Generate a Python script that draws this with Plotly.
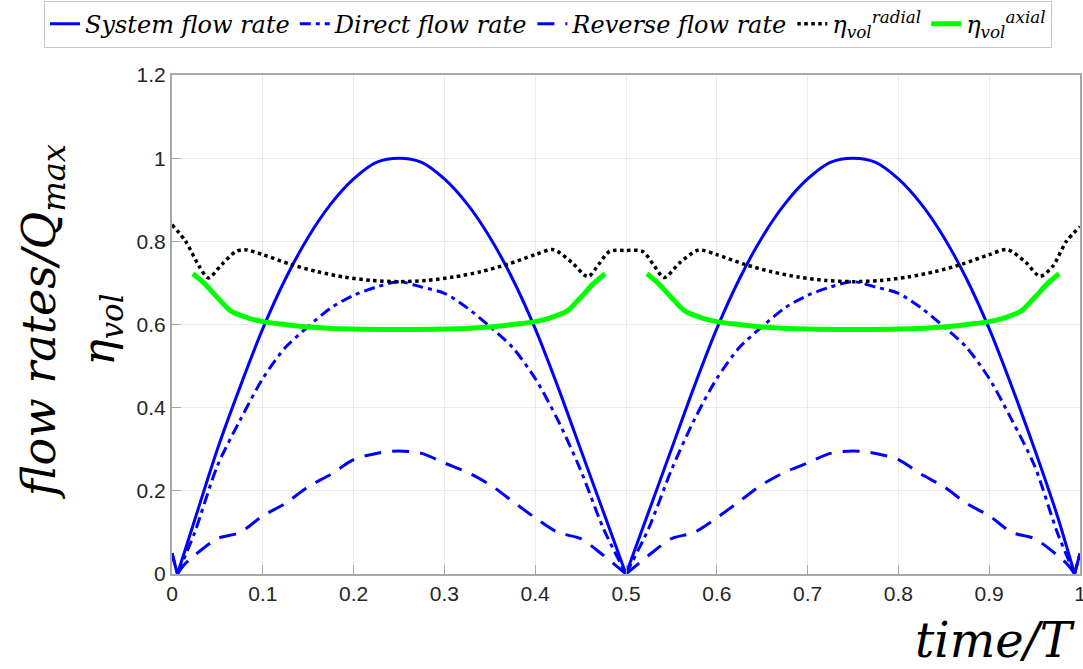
import plotly.graph_objects as go

# ---- data (None splits a curve into separate pieces) ----
t_sys = [0.0, 0.006, None,
         0.006, 0.025, 0.05, 0.075, 0.1, 0.125, 0.15, 0.175, 0.2, 0.225, 0.25,
         0.275, 0.3, 0.325, 0.35, 0.375, 0.4, 0.425, 0.45, 0.475, 0.5, None,
         0.5, 0.525, 0.55, 0.575, 0.6, 0.625, 0.65, 0.675, 0.7, 0.725, 0.75,
         0.775, 0.8, 0.825, 0.85, 0.875, 0.9, 0.925, 0.95, 0.975, 0.994, None,
         0.994, 1.0]
q_sys = [0.05, 0.0, None,
         0.0, 0.13, 0.30, 0.45, 0.59, 0.71, 0.81, 0.89, 0.95, 0.99, 1.0,
         0.99, 0.95, 0.89, 0.81, 0.71, 0.59, 0.45, 0.30, 0.15, 0.0, None,
         0.0, 0.15, 0.30, 0.45, 0.59, 0.71, 0.81, 0.89, 0.95, 0.99, 1.0,
         0.99, 0.95, 0.89, 0.81, 0.71, 0.59, 0.45, 0.30, 0.14, 0.0, None,
         0.0, 0.05]

t_dir = t_sys
q_dir = [0.05, 0.0, None,
         0.0, 0.10, 0.26, 0.37, 0.47, 0.545, 0.595, 0.64, 0.67, 0.69, 0.703,
         0.69, 0.675, 0.64, 0.595, 0.545, 0.47, 0.37, 0.25, 0.11, 0.0, None,
         0.0, 0.11, 0.25, 0.37, 0.47, 0.545, 0.595, 0.64, 0.67, 0.69, 0.703,
         0.69, 0.675, 0.64, 0.595, 0.545, 0.47, 0.37, 0.26, 0.10, 0.0, None,
         0.0, 0.05]

t_rev = [0.006, 0.0125, 0.025, 0.05, 0.075, 0.1, 0.125, 0.15, 0.175, 0.2, 0.225, 0.25,
         0.275, 0.3, 0.325, 0.35, 0.375, 0.4, 0.425, 0.45, 0.475, 0.5, None,
         0.5, 0.525, 0.55, 0.575, 0.6, 0.625, 0.65, 0.675, 0.7, 0.725, 0.75,
         0.775, 0.8, 0.825, 0.85, 0.875, 0.9, 0.925, 0.95, 0.975, 0.9875, 0.994]
q_rev = [0.0, 0.02, 0.045, 0.085, 0.10, 0.14, 0.17, 0.21, 0.24, 0.275, 0.29, 0.296,
         0.29, 0.267, 0.245, 0.215, 0.175, 0.135, 0.10, 0.085, 0.045, 0.0, None,
         0.0, 0.045, 0.085, 0.10, 0.135, 0.175, 0.215, 0.245, 0.267, 0.29, 0.296,
         0.29, 0.275, 0.24, 0.21, 0.17, 0.14, 0.10, 0.085, 0.045, 0.02, 0.0]

t_rad = [0.0, 0.015, 0.03, 0.04, 0.055, 0.07, 0.08, 0.1, 0.13, 0.16, 0.19, 0.22, 0.25,
         0.28, 0.31, 0.34, 0.37, 0.4, 0.42, 0.44, 0.458, 0.47, 0.482, 0.5,
         0.518, 0.53, 0.542, 0.56, 0.58, 0.6, 0.63, 0.66, 0.69, 0.72, 0.75,
         0.78, 0.81, 0.84, 0.87, 0.9, 0.92, 0.94, 0.956, 0.97, 0.985, 1.0]
eta_rad = [0.84, 0.80, 0.74, 0.712, 0.745, 0.775, 0.78, 0.768, 0.745, 0.727, 0.714, 0.706, 0.703,
           0.706, 0.714, 0.727, 0.745, 0.768, 0.78, 0.75, 0.715, 0.745, 0.776, 0.778,
           0.776, 0.745, 0.713, 0.75, 0.779, 0.768, 0.745, 0.727, 0.714, 0.706, 0.703,
           0.706, 0.714, 0.727, 0.745, 0.768, 0.78, 0.75, 0.716, 0.74, 0.80, 0.835]

t_ax = [0.023, 0.035, 0.05, 0.065, 0.085, 0.1, 0.125, 0.15, 0.2, 0.25, 0.3, 0.35,
        0.375, 0.4, 0.415, 0.435, 0.45, 0.465, 0.477, None,
        0.523, 0.535, 0.55, 0.565, 0.585, 0.6, 0.625, 0.65, 0.7, 0.75, 0.8, 0.85,
        0.875, 0.9, 0.915, 0.935, 0.95, 0.965, 0.977]
eta_ax = [0.722, 0.70, 0.665, 0.632, 0.615, 0.607, 0.60, 0.594, 0.589, 0.588, 0.589, 0.594,
          0.60, 0.607, 0.615, 0.632, 0.665, 0.70, 0.722, None,
          0.722, 0.70, 0.665, 0.632, 0.615, 0.607, 0.60, 0.594, 0.589, 0.588, 0.589, 0.594,
          0.60, 0.607, 0.615, 0.632, 0.665, 0.70, 0.722]

x_ticks = [0, 0.1, 0.2, 0.3, 0.4, 0.5, 0.6, 0.7, 0.8, 0.9, 1]
x_labels = ["0", "0.1", "0.2", "0.3", "0.4", "0.5", "0.6", "0.7", "0.8", "0.9", "1"]
y_ticks = [0, 0.2, 0.4, 0.6, 0.8, 1.0, 1.2]
y_labels = ["0", "0.2", "0.4", "0.6", "0.8", "1", "1.2"]

names = ["<i>System flow rate</i>", "<i>Direct flow rate</i>", "<i>Reverse flow rate</i>",
         "<i>η</i><sub><i>vol</i></sub><sup><i>radial</i></sup>",
         "<i>η</i><sub><i>vol</i></sub><sup><i>axial</i></sup>"]

BLUE = "#0000FF"
GREEN = "#00FF00"
SERIF = "DejaVu Serif, Liberation Serif, serif"
SANS = "Liberation Sans, Arial, sans-serif"

fig = go.Figure()
fig.add_trace(go.Scatter(x=t_sys, y=q_sys, mode="lines", name=names[0],
                         line=dict(color=BLUE, width=3, shape="spline", smoothing=0.8)))
fig.add_trace(go.Scatter(x=t_dir, y=q_dir, mode="lines", name=names[1],
                         line=dict(color=BLUE, width=3, dash="11px,5px,4px,5px",
                                   shape="spline", smoothing=0.8)))
fig.add_trace(go.Scatter(x=t_rev, y=q_rev, mode="lines", name=names[2],
                         line=dict(color=BLUE, width=3, dash="17px,11px",
                                   shape="spline", smoothing=0.8)))
fig.add_trace(go.Scatter(x=t_rad, y=eta_rad, mode="lines", name=names[3],
                         line=dict(color="black", width=3.5, dash="dot",
                                   shape="spline", smoothing=0.8)))
fig.add_trace(go.Scatter(x=t_ax, y=eta_ax, mode="lines", name=names[4],
                         line=dict(color=GREEN, width=5, shape="spline", smoothing=0.8)))

axis_common = dict(
    showgrid=True, gridcolor="#ebebeb", gridwidth=1,
    showline=True, linecolor="#a8a8a8", linewidth=2, mirror=True,
    ticks="inside", ticklen=9, tickcolor="#a8a8a8", tickwidth=1,
    tickfont=dict(family=SANS, size=21, color="#262626"),
    ticklabeloverflow="allow",
    zeroline=False,
)

fig.update_xaxes(range=[0, 1], tickvals=x_ticks, ticktext=x_labels, **axis_common)
fig.update_yaxes(range=[0, 1.2], tickvals=y_ticks, ticktext=y_labels, **axis_common)

fig.update_layout(
    width=1083, height=669,
    margin=dict(l=172, r=3, t=75, b=95, autoexpand=False),
    plot_bgcolor="white", paper_bgcolor="white",
    showlegend=True,
    legend=dict(orientation="h", x=-0.141, xanchor="left", y=1.149, yanchor="top",
                bgcolor="white", bordercolor="#c8c8c8", borderwidth=1,
                font=dict(family=SERIF, size=24, color="black"),
                itemwidth=30, tracegroupgap=0),
    annotations=[
        dict(text="<i>flow rates/Q</i><sub><i>max</i></sub>", xref="paper", yref="paper",
             x=-0.143, y=0.505, xanchor="center", yanchor="middle", textangle=-90,
             showarrow=False, font=dict(family=SERIF, size=46, color="black")),
        dict(text="<i>η</i><sub><i>vol</i></sub>", xref="paper", yref="paper",
             x=-0.078, y=0.49, xanchor="center", yanchor="middle", textangle=-90,
             showarrow=False, font=dict(family=SERIF, size=44, color="black")),
        dict(text="<i>time/T</i>", xref="paper", yref="paper",
             x=0.997, y=-0.132, xanchor="right", yanchor="middle",
             showarrow=False, font=dict(family=SERIF, size=48, color="black")),
    ],
)

fig.write_html("out.html", config={"displayModeBar": False},
               post_script="document.body.style.margin='0';document.body.style.padding='0';")
